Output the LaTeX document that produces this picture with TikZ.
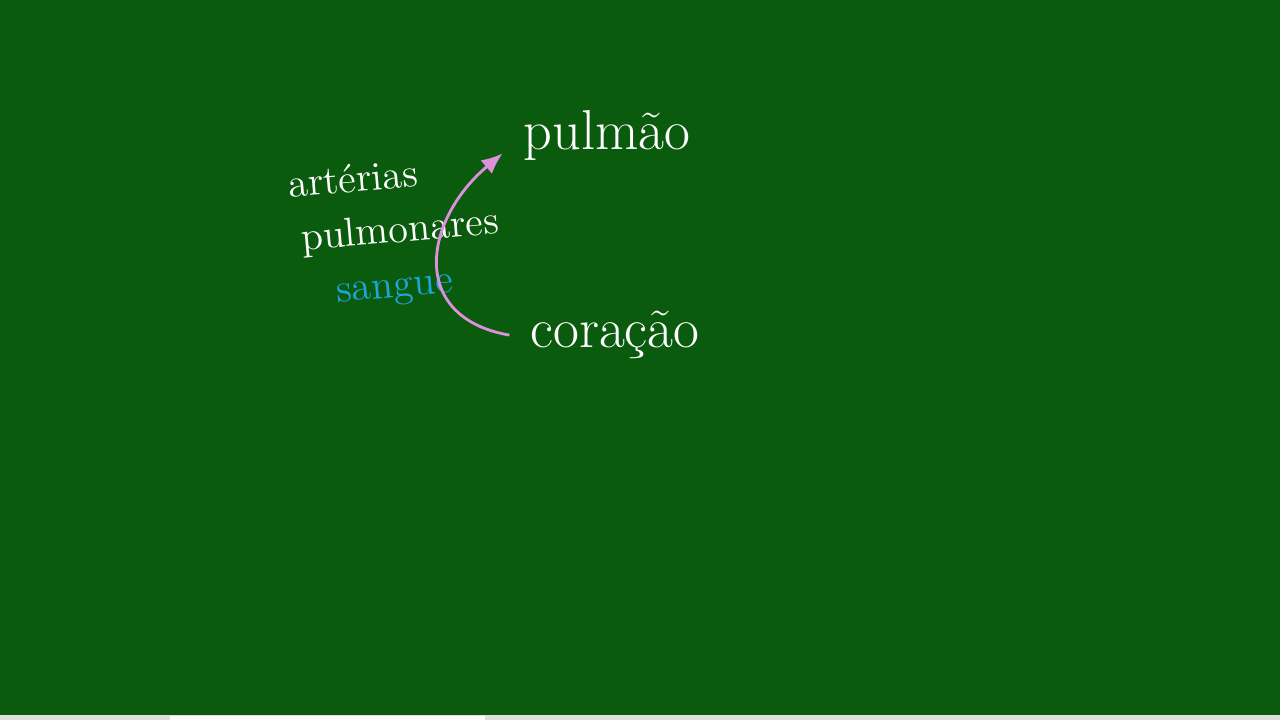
\documentclass[tikz,border=0pt]{standalone}
\usepackage{tikz}
\usetikzlibrary{positioning,arrows.meta}
\definecolor{board}{HTML}{0B5B0E}
\definecolor{chalkpink}{HTML}{DE90DC}
\definecolor{chalkblue}{HTML}{1AA6DE}
\tikzset{
    on grid,
    node distance=2cm,
    word/.style = {
        text=white,
        font=\fontsize{16}{19}\selectfont,
        inner sep=0pt,
        outer sep=6pt
    },
    note/.style = {
        text=white,
        font=\fontsize{11.5}{14}\selectfont,
        inner sep=0pt,
        rotate=5
    },
    flow/.style = {
        draw=chalkpink,
        line width=0.8pt
    },
    >={Latex[length=6pt,width=5pt]},
}

\begin{document}
\begin{tikzpicture}[x=0.01cm, y=0.01cm]
            \fill[board] (0,0) rectangle (1280,-720);
            \fill[gray!25] (0,-715) rectangle (1280,-720);
            \fill[white] (170,-716) rectangle (485,-720);
            \useasboundingbox (0,0) rectangle (1280,-720);

            \node[word] (pulmao) at (607,-135) {pulmão};
            \node[word, below=2cm of pulmao, xshift=0.08cm] (coracao) {coração};

            \node[note] (arterias) at (353,-178) {artérias};
            \node[note] (pulmonares) at (400,-232) {pulmonares};
            \node[note, text=chalkblue] (sangue) at (395,-292) {sangue};

            \path[flow, ->] (coracao.west) to[out=170, in=220, looseness=1.45] (pulmao.190);
        \end{tikzpicture}
\end{document}
